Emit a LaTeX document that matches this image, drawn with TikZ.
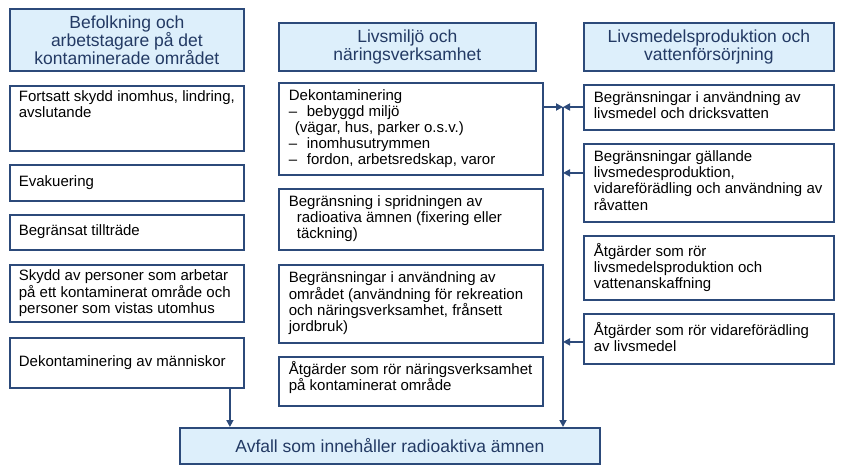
\documentclass[tikz,border=0pt]{standalone}
\usepackage{fontspec}
\setmainfont{Liberation Sans}
\usetikzlibrary{arrows.meta,calc}
\definecolor{bord}{RGB}{44,74,122}
\definecolor{hfill}{RGB}{221,239,251}
\definecolor{htext}{RGB}{35,58,100}
\newcommand\hfont{\fontsize{17.5}{18}\selectfont}
\newcommand\bfont{\fontsize{15}{16}\selectfont}
\newcommand\bt[2]{\makebox[#1][l]{\begin{tabular}{@{}l@{}}#2\end{tabular}}}
\newcommand\dsh{\makebox[18pt][l]{–}}
\begin{document}
\begin{tikzpicture}[x=1pt,y=-1pt,
  base/.style={draw=bord, line width=1.8pt, anchor=north west, inner sep=0pt},
  head/.style={base, fill=hfill, text=htext, font=\hfont, align=center},
  bbox/.style={base, fill=white, font=\bfont, inner xsep=9pt, text=black},
  conn/.style={draw=bord, line width=1.8pt, -{Triangle[length=7pt,width=7pt]}}]
\useasboundingbox (0,0) rectangle (851,476);
% headers
\node[head, minimum width=234pt, minimum height=62pt] (H1) at (9,8) {Befolkning och\\arbetstagare på det\\kontaminerade området};
\node[head, minimum width=257pt, minimum height=48pt] (H2) at (278,22) {Livsmiljö och\\näringsverksamhet};
\node[head, minimum width=250pt, minimum height=48pt] (H3) at (583,22) {Livsmedelsproduktion och\\vattenförsörjning};
% left column
\node[bbox, minimum width=234pt, minimum height=65pt] (L1) at (9,85) {\bt{216pt}{Fortsatt skydd inomhus, lindring,\\avslutande\\[24pt]}};
\node[bbox, minimum width=234pt, minimum height=36pt] (L2) at (9,164) {\bt{216pt}{Evakuering}};
\node[bbox, minimum width=234pt, minimum height=35pt] (L3) at (9,214) {\bt{216pt}{Begränsat tillträde}};
\node[bbox, minimum width=234pt, minimum height=57pt] (L4) at (9,264) {\bt{216pt}{Skydd av personer som arbetar\\på ett kontaminerat område och\\personer som vistas utomhus}};
\node[bbox, minimum width=234pt, minimum height=50pt] (L5) at (9,337) {\bt{216pt}{Dekontaminering av människor}};
% middle column
\node[bbox, minimum width=264pt, minimum height=92pt, inner xsep=10pt] (M1) at (278,82) {\bt{244pt}{Dekontaminering\\\dsh bebyggd miljö\\\hspace*{6pt}(vägar, hus, parker o.s.v.)\\\dsh inomhusutrymmen\\\dsh fordon, arbetsredskap, varor}};
\node[bbox, minimum width=264pt, minimum height=61pt, inner xsep=10pt] (M2) at (278,188) {\bt{244pt}{Begränsning i spridningen av\\\hspace*{8pt}radioativa ämnen (fixering eller\\\hspace*{8pt}täckning)}};
\node[bbox, minimum width=264pt, minimum height=78pt, inner xsep=10pt] (M3) at (278,264) {\bt{244pt}{Begränsningar i användning av\\området (användning för rekreation\\och näringsverksamhet, frånsett\\jordbruk)}};
\node[bbox, minimum width=264pt, minimum height=49pt, inner xsep=10pt] (M4) at (278,356) {\bt{244pt}{Åtgärder som rör näringsverksamhet\\på kontaminerat område\\[6pt]}};
% right column
\node[bbox, minimum width=250pt, minimum height=45pt, inner xsep=10pt] (R1) at (583,84) {\bt{230pt}{Begränsningar i användning av\\livsmedel och dricksvatten}};
\node[bbox, minimum width=250pt, minimum height=78pt, inner xsep=10pt] (R2) at (583,143) {\bt{230pt}{Begränsningar gällande\\livsmedesproduktion,\\vidareförädling och användning av\\råvatten}};
\node[bbox, minimum width=250pt, minimum height=64pt, inner xsep=10pt] (R3) at (583,235) {\bt{230pt}{Åtgärder som rör\\livsmedelsproduktion och\\vattenanskaffning}};
\node[bbox, minimum width=250pt, minimum height=50pt, inner xsep=10pt] (R4) at (583,313) {\bt{230pt}{Åtgärder som rör vidareförädling\\av livsmedel}};
% bottom
\node[head, minimum width=420pt, minimum height=36pt] (W) at (179,427) {Avfall som innehåller radioaktiva ämnen};
% connectors
\coordinate (bustop) at (563,107);
\draw[conn] (M1.east |- bustop) -- (bustop);
\draw[conn] (R1.west |- bustop) -- (bustop);
\draw[conn] ([yshift=10pt]R2.west) coordinate (r2a) -- (r2a -| bustop);
\draw[conn] ([yshift=-3pt]R4.west) coordinate (r4a) -- (r4a -| bustop);
\draw[conn] (bustop) -- (bustop |- W.north);
\draw[conn] ([xshift=103pt]L5.south) coordinate (la) -- (la |- W.north);
\end{tikzpicture}
\end{document}
